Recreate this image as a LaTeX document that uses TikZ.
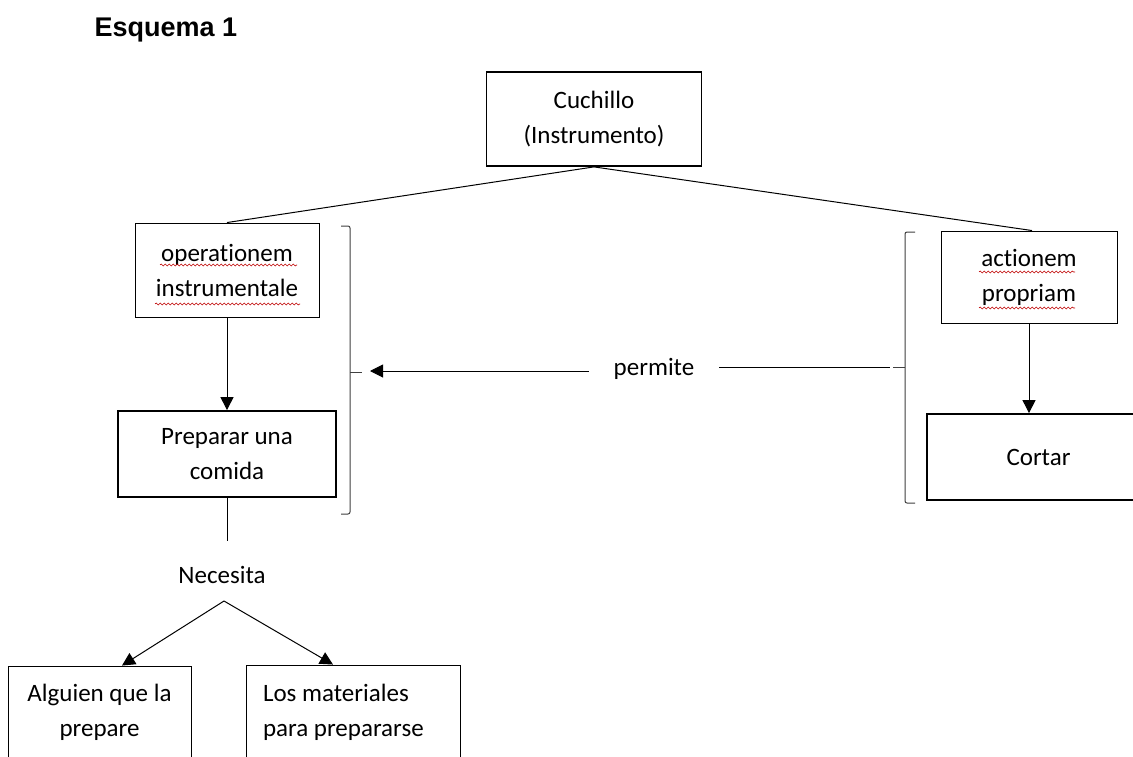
\documentclass[tikz,border=0pt]{standalone}
\usepackage{fontspec}
\setmainfont{Carlito}[Ligatures=NoCommon]
\newfontfamily\titlefont{Liberation Sans}
\usetikzlibrary{arrows.meta,decorations.pathmorphing,calc}
\begin{document}
\begin{tikzpicture}[x=1pt,y=-1pt,
  every node/.style={font=\fontsize{25}{35}\selectfont},
  thinbox/.style={draw, line width=0.9pt, align=center, inner sep=0pt},
  thickbox/.style={draw, line width=1.8pt, align=center, inner sep=0pt},
  conn/.style={line width=1pt},
  arr/.style={line width=1pt, -{Triangle[length=13pt,width=13pt]}},
  brk/.style={line width=1pt, rounded corners=2pt, black!75},
  wavy/.style={draw=red!75!black, line width=0.6pt, decorate, decoration={snake, segment length=4pt, amplitude=1pt}}
]
\clip (0,0) rectangle (1133,757);
\fill[white] (0,0) rectangle (1133,757);

\node[font=\titlefont\bfseries\fontsize{27}{32}\selectfont] (title) at (166,30) {Esquema 1};

\node[thickbox, minimum width=215pt, minimum height=94pt] (cuch) at (594,119) {Cuchillo\\(Instrumento)};
\node[thinbox, minimum width=184pt, minimum height=94pt] (oper) at (227,270) {operationem\\instrumentale};
\node[thinbox, minimum width=176pt, minimum height=92pt] (act) at (1029,277) {actionem\\propriam};
\node[thickbox, minimum width=218pt, minimum height=86pt] (prep) at (227,454) {Preparar una\\comida};
\node[thickbox, minimum width=223pt, minimum height=86pt] (cort) at (1038.5,457) {Cortar};
\node (nec) at (222,575) {Necesita};
\node[inner xsep=25pt] (perm) at (654,369) {permite};
\node[thinbox, minimum width=183pt, minimum height=134pt] (alg) at (99.5,733) {Alguien que la\\prepare\\\strut};
\node[thinbox, minimum width=214pt, minimum height=136pt, text width=180pt, align=flush left] (mat) at (353,733) {Los materiales\\para prepararse\\\strut};

% spell-check underlines
\draw[wavy] (160,265) -- (297,265);
\draw[wavy] (155,304) -- (300,304);
\draw[wavy] (979,272) -- (1075,272);
\draw[wavy] (979,308) -- (1075,308);

% connectors
\draw[conn] (cuch.south) -- (oper.north);
\draw[conn] (cuch.south) -- ($(act.north)+(3,0)$);
\draw[arr] (oper.south) -- (prep.north);
\draw[arr] (act.south) -- (act.south |- cort.north);
\coordinate (necTop) at (227,541);
\draw[conn] (prep.south) -- (necTop);
\coordinate (ap) at (224,601);
\draw[arr] (ap) -- ($(alg.north)+(22.5,0)$);
\draw[arr] (ap) -- ($(mat.north)+(-20,0)$);

% brackets
\draw[brk] (341,226) -- (350,226) -- (350,514) -- (341,514);
\draw[brk] (350,372) -- (362,372);
\draw[brk] (915,232) -- (905,232) -- (905,503) -- (915,503);
\draw[brk] (905,367) -- (893,367);
\coordinate (lt) at (370,371);
\coordinate (rt) at (890,367);
\draw[arr] (perm.west |- lt) -- (lt);
\draw[conn] (perm.east |- rt) -- (rt);
\end{tikzpicture}
\end{document}
